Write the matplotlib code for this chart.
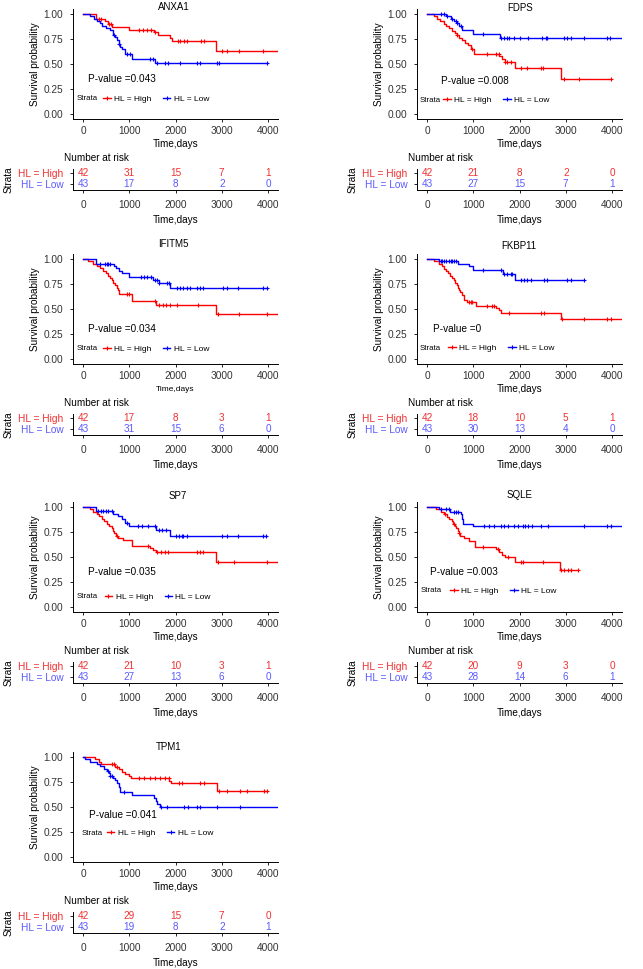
import numpy as np
import matplotlib
matplotlib.use("Agg")
import matplotlib.pyplot as plt
from matplotlib.lines import Line2D

plt.rcParams["font.family"] = ["Liberation Sans", "DejaVu Sans"]

RED = "#FF0000"
BLUE = "#0000FF"
RED_TXT = "#F03030"
BLUE_TXT = "#5A5AFF"

genes = ["ANXA1", "FDPS", "IFITM5", "FKBP11", "SP7", "SQLE", "TPM1"]
pvalues = ["0.043", "0.008", "0.034", "0", "0.035", "0.003", "0.041"]
risk_times = [0, 1000, 2000, 3000, 4000]

# ANXA1
anxa1_high_t = [280, 475, 550, 620, 1000, 1535, 1630, 1880, 1915, 2870]
anxa1_high_s = [0.953, 0.929, 0.905, 0.87, 0.845, 0.82, 0.79, 0.76, 0.73, 0.636]
anxa1_high_c = [353, 389, 562, 598, 1218, 1290, 1377, 1463, 1557, 2047, 2097, 2191, 2256, 2551, 2616, 2998, 3106, 3380, 3885]
anxa1_low_t = [150, 240, 300, 360, 420, 500, 580, 650, 700, 740, 770, 800, 850, 900, 1050, 1560]
anxa1_low_s = [0.977, 0.953, 0.93, 0.907, 0.884, 0.86, 0.837, 0.79, 0.767, 0.744, 0.697, 0.674, 0.651, 0.605, 0.553, 0.514]
anxa1_low_c = [677, 785, 958, 1016, 1449, 1521, 1607, 1773, 1845, 2097, 2472, 2530, 2890, 2948, 3970]
anxa1_risk_high = [42, 31, 15, 7, 1]
anxa1_risk_low = [43, 17, 8, 2, 0]

# FDPS
fdps_high_t = [150, 220, 290, 360, 420, 480, 540, 600, 650, 700, 760, 820, 880, 950, 1020, 1560, 1620, 1680, 1900, 2890]
fdps_high_s = [0.976, 0.952, 0.929, 0.905, 0.881, 0.857, 0.833, 0.81, 0.786, 0.762, 0.738, 0.714, 0.69, 0.655, 0.605, 0.58, 0.555, 0.525, 0.465, 0.35]
fdps_high_c = [656, 980, 1304, 1484, 1557, 1680, 1737, 1809, 2025, 2169, 2458, 2515, 2962, 3286, 3985]
fdps_low_t = [420, 520, 580, 640, 700, 760, 1000, 1580]
fdps_low_s = [0.977, 0.953, 0.93, 0.907, 0.884, 0.837, 0.80, 0.763]
fdps_low_c = [295, 367, 440, 548, 620, 656, 728, 1218, 1607, 1665, 1722, 1773, 1881, 2011, 2191, 2494, 2566, 2602, 2962, 3034, 3106, 3394, 3899, 3957]
fdps_risk_high = [42, 21, 8, 2, 0]
fdps_risk_low = [43, 27, 15, 7, 1]

# IFITM5
ifitm5_high_t = [115, 223, 295, 360, 425, 497, 548, 584, 620, 656, 692, 728, 764, 785, 1052, 1571, 2868]
ifitm5_high_s = [0.976, 0.953, 0.93, 0.907, 0.882, 0.858, 0.833, 0.81, 0.786, 0.762, 0.738, 0.714, 0.69, 0.65, 0.58, 0.545, 0.455]
ifitm5_high_c = [944, 1000, 1557, 1650, 1722, 1795, 1881, 2025, 2494, 2926, 3380, 3985]
ifitm5_low_t = [290, 660, 720, 780, 850, 1000, 1520, 1640, 1880]
ifitm5_low_s = [0.953, 0.93, 0.906, 0.882, 0.858, 0.825, 0.795, 0.765, 0.71]
ifitm5_low_c = [368, 476, 512, 548, 584, 1247, 1319, 1391, 1463, 1557, 1593, 1650, 1809, 1867, 2025, 2097, 2169, 2241, 2313, 2458, 2530, 2587, 3034, 3106, 3358, 3899, 3971]
ifitm5_risk_high = [42, 17, 8, 3, 1]
ifitm5_risk_low = [43, 31, 15, 6, 0]

# FKBP11
fkbp11_high_t = [151, 259, 331, 370, 404, 450, 497, 540, 584, 610, 641, 665, 692, 720, 764, 800, 872, 1052, 1484, 1557, 1593, 2890]
fkbp11_high_s = [0.977, 0.953, 0.93, 0.905, 0.88, 0.857, 0.833, 0.81, 0.786, 0.762, 0.738, 0.714, 0.69, 0.667, 0.643, 0.595, 0.57, 0.535, 0.51, 0.49, 0.465, 0.405]
fkbp11_high_c = [908, 944, 980, 1304, 1412, 1449, 1773, 2458, 2530, 2926, 3394, 3899, 3971]
fkbp11_low_t = [260, 660, 900, 1000, 1640, 1900]
fkbp11_low_s = [0.977, 0.953, 0.93, 0.888, 0.85, 0.79]
fkbp11_low_c = [295, 331, 367, 404, 476, 512, 548, 584, 620, 1218, 1607, 1665, 1737, 1809, 1845, 2025, 2097, 2169, 2241, 2530, 2602, 3034, 3106, 3394]
fkbp11_risk_high = [42, 18, 10, 5, 1]
fkbp11_risk_low = [43, 30, 13, 4, 0]

# SP7
sp7_high_t = [151, 223, 295, 350, 404, 455, 512, 570, 620, 641, 670, 713, 764, 872, 1052, 1449, 1521, 1578, 2868]
sp7_high_s = [0.976, 0.953, 0.93, 0.907, 0.88, 0.86, 0.833, 0.81, 0.786, 0.762, 0.738, 0.714, 0.69, 0.667, 0.61, 0.59, 0.57, 0.548, 0.455]
sp7_high_c = [728, 1412, 1607, 1679, 1773, 1845, 2458, 2530, 2602, 2926, 3265, 3971]
sp7_low_t = [290, 650, 760, 850, 900, 990, 1570, 1880]
sp7_low_s = [0.96, 0.93, 0.906, 0.88, 0.84, 0.81, 0.77, 0.715]
sp7_low_c = [331, 382, 440, 497, 548, 620, 944, 1196, 1268, 1412, 1557, 1650, 1701, 1795, 2011, 2083, 2133, 2169, 2241, 2998, 3106, 3358, 3899, 3957]
sp7_risk_high = [42, 21, 10, 3, 1]
sp7_risk_low = [43, 27, 13, 6, 0]

# SQLE
sqle_high_t = [195, 303, 370, 432, 480, 533, 570, 605, 630, 663, 690, 720, 807, 915, 1038, 1492, 1560, 1620, 1690, 1900, 2880]
sqle_high_s = [0.976, 0.953, 0.929, 0.905, 0.881, 0.857, 0.833, 0.81, 0.786, 0.762, 0.738, 0.714, 0.69, 0.66, 0.605, 0.58, 0.55, 0.525, 0.497, 0.447, 0.372]
sqle_high_c = [389, 591, 699, 1204, 1528, 1744, 2032, 2068, 2501, 2897, 2969, 3041, 3114, 3272]
sqle_low_t = [267, 500, 730, 760, 780, 990]
sqle_low_s = [0.976, 0.952, 0.926, 0.88, 0.834, 0.808]
sqle_low_c = [303, 411, 483, 577, 627, 663, 1225, 1348, 1456, 1600, 1672, 1744, 1888, 1960, 2068, 2119, 2191, 2263, 2465, 2609, 3402, 3892, 3978]
sqle_risk_high = [42, 20, 9, 3, 0]
sqle_risk_low = [43, 28, 14, 6, 1]

# TPM1
tpm1_high_t = [267, 340, 380, 700, 770, 840, 915, 990, 1030, 1870, 1910, 2900]
tpm1_high_s = [0.976, 0.952, 0.927, 0.903, 0.878, 0.853, 0.83, 0.81, 0.787, 0.763, 0.745, 0.664]
tpm1_high_c = [627, 663, 735, 1204, 1312, 1456, 1564, 1672, 1780, 1852, 2068, 2141, 2537, 2623, 2933, 3113, 3402, 3546, 3906, 3978]
tpm1_low_t = [50, 160, 300, 375, 447, 519, 560, 590, 650, 700, 735, 770, 807, 1060, 1530, 1570, 1600, 1660]
tpm1_low_s = [0.977, 0.953, 0.93, 0.907, 0.884, 0.86, 0.837, 0.814, 0.79, 0.767, 0.744, 0.697, 0.651, 0.62, 0.59, 0.56, 0.535, 0.505]
tpm1_low_c = [530, 591, 630, 894, 1694, 1816, 2176, 2263, 2465, 2522, 2897, 3387]
tpm1_risk_high = [42, 29, 15, 7, 0]
tpm1_risk_low = [43, 19, 8, 2, 1]

# curve end times (past the axis -> runs to the edge)
high_end = [4500, 3985, 4500, 4500, 4500, 3272, 3978]
low_end = [3970, 4500, 3971, 3394, 3957, 4500, 4500]

high_curves = [
    (anxa1_high_t, anxa1_high_s, anxa1_high_c),
    (fdps_high_t, fdps_high_s, fdps_high_c),
    (ifitm5_high_t, ifitm5_high_s, ifitm5_high_c),
    (fkbp11_high_t, fkbp11_high_s, fkbp11_high_c),
    (sp7_high_t, sp7_high_s, sp7_high_c),
    (sqle_high_t, sqle_high_s, sqle_high_c),
    (tpm1_high_t, tpm1_high_s, tpm1_high_c),
]
low_curves = [
    (anxa1_low_t, anxa1_low_s, anxa1_low_c),
    (fdps_low_t, fdps_low_s, fdps_low_c),
    (ifitm5_low_t, ifitm5_low_s, ifitm5_low_c),
    (fkbp11_low_t, fkbp11_low_s, fkbp11_low_c),
    (sp7_low_t, sp7_low_s, sp7_low_c),
    (sqle_low_t, sqle_low_s, sqle_low_c),
    (tpm1_low_t, tpm1_low_s, tpm1_low_c),
]
risk_high = [anxa1_risk_high, fdps_risk_high, ifitm5_risk_high, fkbp11_risk_high,
             sp7_risk_high, sqle_risk_high, tpm1_risk_high]
risk_low = [anxa1_risk_low, fdps_risk_low, ifitm5_risk_low, fkbp11_risk_low,
            sp7_risk_low, sqle_risk_low, tpm1_risk_low]

# layout (pixels)
W, H = 643, 969
col_x = [73, 417]
row_base = [14, 259, 507, 757]
panel_pos = [(0, 0), (1, 0), (0, 1), (1, 1), (0, 2), (1, 2), (0, 3)]
title_xy = [(174, 7), (520, 8), (173, 244), (519, 246), (178, 496), (520, 495), (169, 747)]
pval_xy = [(115, 0.348), (310, 0.333), (115, 0.30), (137, 0.30), (115, 0.354), (72, 0.348), (122, 0.42)]
legend_xy = [(-144, 433, 0.156), (-151, 353, 0.14), (-144, 433, 0.103), (-151, 461, 0.11),
             (-144, 469, 0.106), (-144, 505, 0.166), (-21, 519, 0.238)]
XLIM = (-216, 4216)
AX_W = 205


def add_px_axes(fig, x0, top, w, h):
    return fig.add_axes([x0 / W, 1 - (top + h) / H, w / W, h / H])


def surv_at(t, s, c):
    idx = np.searchsorted(np.asarray(t), np.asarray(c), side="right")
    s = np.concatenate([[1.0], s])
    return s[idx]


def style_axes(ax):
    for side in ["top", "right"]:
        ax.spines[side].set_visible(False)
    for side in ["left", "bottom"]:
        ax.spines[side].set_linewidth(0.7)
    ax.tick_params(length=2.5, width=0.6, labelsize=7.3, labelcolor="#333333")
    ax.tick_params(axis="y", pad=4.5)
    ax.set_xlim(*XLIM)
    ax.set_xticks(risk_times)


fig = plt.figure(figsize=(W / 100, H / 100), dpi=100)

for i, gene in enumerate(genes):
    col, row = panel_pos[i]
    x0 = col_x[col]
    b = row_base[row]

    ax = add_px_axes(fig, x0, b - 5, AX_W, 110.3)
    style_axes(ax)
    ax.tick_params(axis="x", pad=2)
    ax.set_ylim(-0.05, 1.05)
    ax.set_yticks([0, 0.25, 0.5, 0.75, 1.0])
    ax.set_yticklabels(["0.00", "0.25", "0.50", "0.75", "1.00"])

    for (t, s, c), end, color in [(high_curves[i], high_end[i], RED), (low_curves[i], low_end[i], BLUE)]:
        xs = np.concatenate([[0], t, [end]])
        ys = np.concatenate([[1.0], s, [s[-1]]])
        ax.step(xs, ys, where="post", color=color, lw=1.0)
        ax.plot(c, surv_at(t, s, c), "+", color=color, ms=3.5, mew=0.8, ls="none")

    ax.set_ylabel("Survival probability", fontsize=7.2, va="center")
    ax.yaxis.set_label_coords(-0.185, 0.5)
    ax.set_xlabel("Time,days", fontsize=6 if gene == "IFITM5" else 7.2, va="center")
    ax.xaxis.set_label_coords(0.5, -0.225)

    px, py = pval_xy[i]
    ax.text(px, py, "P-value =" + pvalues[i], fontsize=7.2, va="center", ha="left")

    sx, lx, ly = legend_xy[i]
    ax.text(sx, ly, "Strata", fontsize=5.6, va="center", ha="left")
    handles = [Line2D([0], [0], color=RED, lw=1.0, marker="+", ms=3.5, mew=0.8),
               Line2D([0], [0], color=BLUE, lw=1.0, marker="+", ms=3.5, mew=0.8)]
    ax.legend(handles, ["HL = High", "HL = Low"], loc="center left",
              bbox_to_anchor=(lx, ly), bbox_transform=ax.transData,
              ncol=2, frameon=False, fontsize=6, handlelength=0.9,
              handletextpad=0.4, columnspacing=1.4, borderpad=0, borderaxespad=0,
              numpoints=1)

    tx, ty = title_xy[i]
    fig.text(tx / W, 1 - ty / H, gene, fontsize=7, ha="center", va="center")

    # risk table
    tab = add_px_axes(fig, x0, b + 155, AX_W, 21)
    style_axes(tab)
    tab.tick_params(axis="x", pad=4.5)
    tab.set_ylim(-0.546, 1.362)
    tab.set_yticks([1, 0])
    tab.set_yticklabels(["HL = High", "HL = Low"])
    tab.get_yticklabels()[0].set_color(RED_TXT)
    tab.get_yticklabels()[1].set_color(BLUE_TXT)
    for t, n in zip(risk_times, risk_high[i]):
        tab.text(t, 1, str(n), color=RED_TXT, fontsize=7.2, ha="center", va="center")
    for t, n in zip(risk_times, risk_low[i]):
        tab.text(t, 0, str(n), color=BLUE_TXT, fontsize=7.2, ha="center", va="center")
    tab.text(-0.045, 1.524, "Number at risk", transform=tab.transAxes, fontsize=7.2, va="center", ha="left")
    tab.set_ylabel("Strata", fontsize=7.2, va="center")
    tab.yaxis.set_label_coords(-0.315, 0.5)
    tab.set_xlabel("Time,days", fontsize=7.2, va="center")
    tab.xaxis.set_label_coords(0.5, -1.43)

fig.savefig("out.png", dpi=100)
